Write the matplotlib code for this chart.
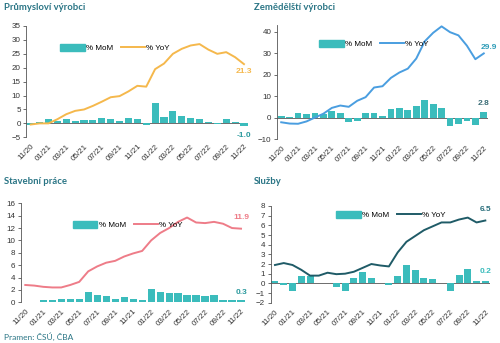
import numpy as np
import matplotlib
matplotlib.use("Agg")
import matplotlib.pyplot as plt
from matplotlib.lines import Line2D
from matplotlib.patches import Patch

months = ["11/20", "12/20", "01/21", "02/21", "03/21", "04/21", "05/21", "06/21",
          "07/21", "08/21", "09/21", "10/21", "11/21", "12/21", "01/22", "02/22",
          "03/22", "04/22", "05/22", "06/22", "07/22", "08/22", "09/22", "10/22", "11/22"]

prum_mom = [-0.6, 0.4, 1.4, 1.0, 1.7, 1.0, 1.2, 1.2, 1.9, 1.5, 1.0, 2.1, 1.4, -0.4,
            7.2, 2.4, 4.6, 2.7, 2.1, 1.7, 0.5, -0.3, 1.4, 0.6, -1.0]
prum_yoy = [-0.4, 0.0, 0.0, 1.5, 3.3, 4.5, 5.0, 6.3, 7.8, 9.4, 9.8, 11.5, 13.5, 13.2,
            19.5, 21.5, 25.0, 26.8, 28.0, 28.5, 26.5, 25.0, 25.6, 23.8, 21.3]

zem_mom = [0.5, 0.1, 2.3, 1.8, 2.0, 1.8, 3.0, 2.1, -2.2, -1.5, 2.3, 2.0, 0.9, 3.9,
           4.6, 3.4, 5.5, 8.3, 6.2, 4.6, -4.0, -2.8, -1.5, -3.4, 2.8]
zem_yoy = [-2.2, -2.8, -2.9, -1.8, 0.0, 1.8, 4.5, 5.6, 5.0, 7.8, 9.5, 14.0, 14.6, 18.5,
           21.0, 22.8, 27.5, 35.5, 39.5, 42.5, 39.8, 38.3, 33.5, 27.2, 29.9]

stav_mom = [np.nan, np.nan, 0.4, 0.4, 0.6, 0.6, 0.6, 1.7, 1.1, 1.0, 0.6, 0.8, 0.5, 0.4,
            2.1, 1.7, 1.5, 1.5, 1.2, 1.1, 1.0, 1.2, 0.3, 0.4, 0.3]
stav_yoy = [2.8, 2.7, 2.5, 2.4, 2.4, 2.8, 3.3, 5.0, 5.8, 6.4, 6.7, 7.4, 7.9, 8.3,
            10.0, 11.2, 12.0, 13.0, 13.7, 12.9, 12.8, 13.0, 12.7, 12.0, 11.9]

sluz_mom = [0.2, -0.2, -0.8, 0.8, 0.8, 0.0, 0.0, -0.4, -0.8, 0.6, 1.2, 0.6, 0.0, -0.2,
            0.8, 1.9, 1.4, 0.6, 0.4, 0.0, -0.8, 0.9, 1.5, 0.2, 0.2]
sluz_yoy = [1.9, 2.1, 1.9, 1.4, 0.8, 0.8, 1.1, 0.95, 1.0, 1.2, 1.6, 2.0, 1.85, 1.75,
            3.2, 4.3, 4.9, 5.5, 5.9, 6.3, 6.3, 6.6, 6.8, 6.3, 6.5]

BAR = "#3bbcbc"
TITLE = "#2a7585"
W, H = 500, 343

panels = [
    dict(title="Průmysloví výrobci", tpos=(4, 8), mom=prum_mom, yoy=prum_yoy, color="#f5b84c",
         box=(26.3, 248.4, 26, 137.3), ylim=(-5, 35), ticks=range(-5, 36, 5),
         yoy_lbl="21.3", mom_lbl="-1.0", yoy_c="#f5b84c", mom_c="#2b9a9e",
         yoy_off=(0, -5), mom_off=(0, -7), leg=(0.40, 0.80)),
    dict(title="Zemědělští výrobci", tpos=(254, 8), mom=zem_mom, yoy=zem_yoy, color="#4a9ee0",
         box=(277, 488, 25.3, 139), ylim=(-10, 43), ticks=range(-10, 41, 10),
         yoy_lbl="29.9", mom_lbl="2.8", yoy_c="#2f9db8", mom_c="#3d6f78",
         yoy_off=(4, 4), mom_off=(0, 6), leg=(0.46, 0.835)),
    dict(title="Stavební práce", tpos=(4, 181), mom=stav_mom, yoy=stav_yoy, color="#ee7c88",
         box=(20.8, 245.5, 203.3, 302.3), ylim=(0, 16), ticks=range(0, 17, 2),
         yoy_lbl="11.9", mom_lbl="0.3", yoy_c="#ee7c88", mom_c="#2b9a9e",
         yoy_off=(0, 8), mom_off=(0, 6), leg=(0.477, 0.78)),
    dict(title="Služby", tpos=(254, 182), mom=sluz_mom, yoy=sluz_yoy, color="#1f5b67",
         box=(270.6, 489.7, 206, 302.7), ylim=(-2, 8), ticks=range(-2, 9, 1),
         yoy_lbl="6.5", mom_lbl="0.2", yoy_c="#2a6f7c", mom_c="#3bbcbc",
         yoy_off=(0, 8), mom_off=(0, 7), leg=(0.55, 0.907)),
]

fig = plt.figure(figsize=(W / 100, H / 100), dpi=100)
plt.rcParams["font.family"] = ["Liberation Sans", "DejaVu Sans"]

x = np.arange(len(months))
for p in panels:
    x0, x1, y0, y1 = p["box"]
    ax = fig.add_axes([x0 / W, 1 - y1 / H, (x1 - x0) / W, (y1 - y0) / H])
    ax.bar(x, p["mom"], width=0.8, color=BAR, zorder=2)
    ax.plot(x, p["yoy"], color=p["color"], lw=1.4, zorder=3)
    ax.axhline(0, color="#555555", lw=0.6, zorder=1)
    ax.set_xlim(-0.5, len(months) - 0.5)
    ax.set_ylim(*p["ylim"])
    ax.set_yticks(list(p["ticks"]))
    ax.tick_params(axis="y", labelsize=5.8, length=2, width=0.5, pad=2, colors="#333333")
    ax.set_xticks(x[::2])
    ax.set_xticklabels(months[::2], rotation=45, ha="right", rotation_mode="anchor")
    ax.tick_params(axis="x", labelsize=5.8, length=0, pad=4, colors="#333333")
    for s in ("top", "right", "bottom"):
        ax.spines[s].set_visible(False)
    ax.spines["left"].set_linewidth(0.6)
    ax.spines["left"].set_color("#555555")

    ax.annotate(p["yoy_lbl"], (x[-1], p["yoy"][-1]), xytext=p["yoy_off"],
                textcoords="offset points", ha="center", va="center",
                fontsize=6, fontweight="bold", color=p["yoy_c"])
    ax.annotate(p["mom_lbl"], (x[-1], p["mom"][-1]), xytext=p["mom_off"],
                textcoords="offset points", ha="center", va="center",
                fontsize=6, fontweight="bold", color=p["mom_c"])

    handles = [Patch(color=BAR), Line2D([], [], color=p["color"], lw=1.4)]
    ax.legend(handles, ["% MoM", "% YoY"], ncol=2, frameon=False, fontsize=5.8,
              loc="center", bbox_to_anchor=p["leg"], handlelength=3.0,
              handleheight=0.9, columnspacing=1.0, handletextpad=0.15)

    tx, ty = p["tpos"]
    fig.text(tx / W, 1 - ty / H, p["title"], fontsize=6.8, fontweight="bold",
             color=TITLE, family=["Lato", "DejaVu Sans"], va="center", ha="left")

fig.text(4 / W, 1 - 337 / H, "Pramen: ČSÚ, ČBA", fontsize=6, color=TITLE,
         family=["Lato", "DejaVu Sans"], va="center", ha="left")

fig.savefig("out.png", dpi=100)
